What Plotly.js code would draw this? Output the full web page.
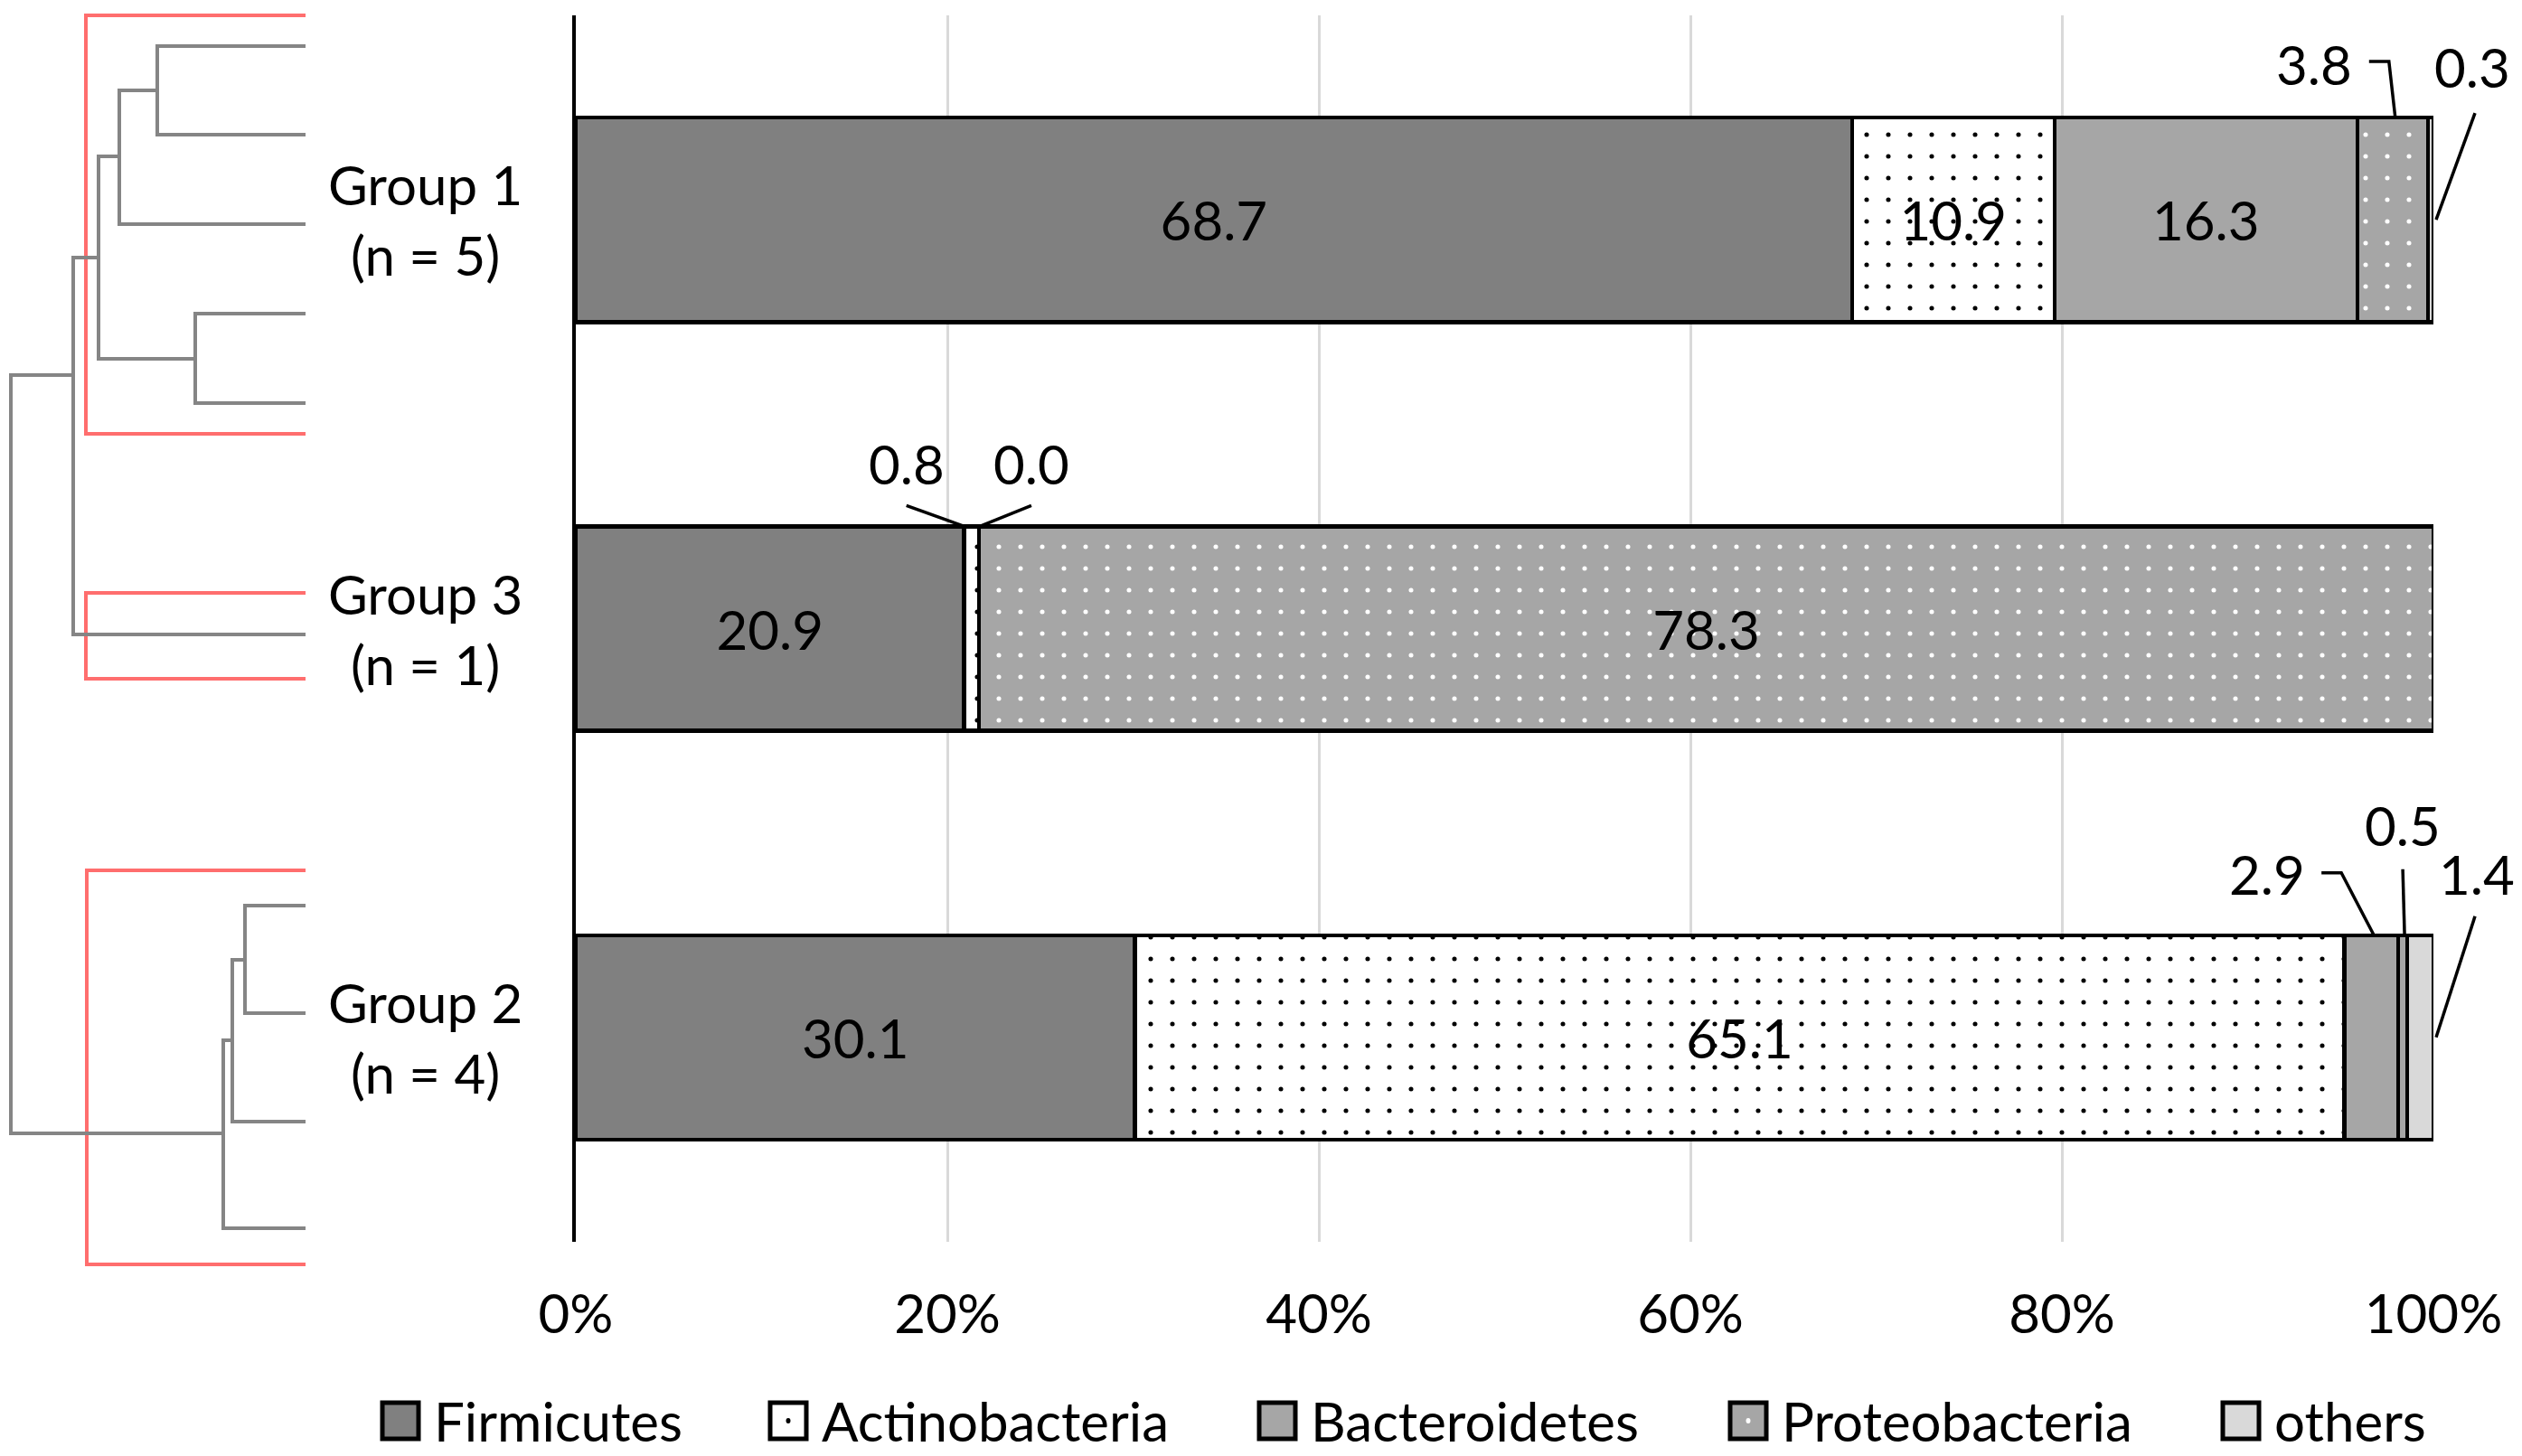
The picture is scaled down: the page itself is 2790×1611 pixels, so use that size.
<!DOCTYPE html>
<html><head><meta charset="utf-8">
<script src="https://cdn.plot.ly/plotly-3.0.1.min.js"></script>
<style>html,body{margin:0;padding:0;background:#fff;}#chart{width:2790px;height:1611px;}</style>
</head><body><div id="chart"></div>
<script>
// ---------- data ----------
const groups = ['Group 1', 'Group 3', 'Group 2'];
const groupN = [5, 1, 4];
const phyla = ['Firmicutes', 'Actinobacteria', 'Bacteroidetes', 'Proteobacteria', 'others'];
const firmicutes     = [68.7, 20.9, 30.1];
const actinobacteria = [10.9, 0.8, 65.1];
const bacteroidetes  = [16.3, 0.0, 2.9];
const proteobacteria = [3.8, 78.3, 0.5];
const others         = [0.3, 0.0, 1.4];
const xTickVals = [0, 20, 40, 60, 80, 100];
const xTickText = ['0%', '20%', '40%', '60%', '80%', '100%'];

const series = [firmicutes, actinobacteria, bacteroidetes, proteobacteria, others];

// ---------- styles ----------
const FONT = 'Lato, "Open Sans", sans-serif';
const FS = 60;
const styles = [
  {color: '#808080'},
  {color: '#ffffff', pattern: {shape: '.', fgcolor: '#000000', bgcolor: '#ffffff', size: 24, solidity: 0.035}},
  {color: '#a6a6a6'},
  {color: '#a6a6a6', pattern: {shape: '.', fgcolor: '#ffffff', bgcolor: '#a6a6a6', size: 24, solidity: 0.035}},
  {color: '#d9d9d9'}
];

const W = 2790, H = 1611;
const PL = 637, PR = 2692, PT = 17, PB = 1374;
const PW = PR - PL, PH = PB - PT;
const X = px => (px - PL) / PW;
const Y = py => (PB - py) / PH;
const XR = [0, 100], YR = [2.5, -0.5];
// data -> paper fractions through the axis ranges
const xPaper = v => (v - XR[0]) / (XR[1] - XR[0]);
const yPaper = c => (c - YR[0]) / (YR[1] - YR[0]);

// ---------- bar traces ----------
const traces = series.map((vals, s) => ({
  type: 'bar', orientation: 'h',
  name: phyla[s],
  y: groups, x: vals,
  marker: Object.assign({line: {color: '#000000', width: 4.5}}, styles[s]),
  text: vals.map(v => v >= 5 ? v.toFixed(1) : ''),
  textposition: 'inside', insidetextanchor: 'middle', textangle: 0,
  constraintext: 'none',
  textfont: {family: FONT, size: FS, color: '#000000'},
  hoverinfo: 'skip', showlegend: false
}));

// ---------- small-value labels with leader lines (offsets in pixels) ----------
const smallLabels = [
  {s: 3, g: 0, at: 'center', ya: 'top', dx: -87, dy: 59, path: [[3,0],[-4,62],[-26,62]]},
  {s: 4, g: 0, at: 'end',    ya: 'mid', dx: 43,  dy: 169, path: [[3,0],[46,118]]},
  {s: 1, g: 1, at: 'center', ya: 'top', dx: -72, dy: 69, path: [[-8,0],[-72,23]]},
  {s: 2, g: 1, at: 'center', ya: 'top', dx: 58,  dy: 69, path: [[1,0],[58,23]]},
  {s: 2, g: 2, at: 'center', ya: 'top', dx: -115, dy: 68, path: [[3,0],[-33,69],[-55,69]]},
  {s: 3, g: 2, at: 'center', ya: 'top', dx: 0,   dy: 122, path: [[2,0],[0,73]]},
  {s: 4, g: 2, at: 'end',    ya: 'mid', dx: 48,  dy: 181, path: [[3,0],[46,134]]}
];

const annotations = [];
const shapes = [];

smallLabels.forEach(L => {
  let start = 0;
  for (let k = 0; k < L.s; k++) start += series[k][L.g];
  const v = series[L.s][L.g];
  const xa = L.at === 'center' ? start + v / 2 : start + v;
  const ya = L.ya === 'top' ? L.g - 0.25 : L.g;
  annotations.push({
    xref: 'x', yref: 'y', x: xa, y: ya, xshift: L.dx, yshift: L.dy,
    text: v.toFixed(1), showarrow: false, xanchor: 'center', yanchor: 'middle',
    font: {family: FONT, size: FS, color: '#000000'}
  });
  shapes.push({
    type: 'path', xref: 'paper', yref: 'paper', xsizemode: 'pixel', ysizemode: 'pixel',
    xanchor: xPaper(xa), yanchor: yPaper(ya),
    path: 'M' + L.path.map(p => p[0] + ',' + p[1]).join('L'),
    line: {color: '#000000', width: 3.5}, layer: 'above'
  });
});

// ---------- group labels ----------
groups.forEach((g, i) => {
  annotations.push({
    xref: 'paper', yref: 'y', x: X(470), y: i,
    text: g + '<br>(n = ' + groupN[i] + ')', showarrow: false,
    xanchor: 'center', yanchor: 'middle', align: 'center',
    font: {family: FONT, size: FS, color: '#000000'}
  });
});

// ---------- dendrogram (pixel layout) ----------
const pixPath = pts => 'M' + pts.map(p => (p[0] - PL) + ',' + (PT - p[1])).join('L');
const dendroGray = [
  [[338,51],[174,51],[174,149],[338,149]],
  [[174,100],[132,100],[132,248],[338,248]],
  [[338,347],[216,347],[216,446],[338,446]],
  [[132,173],[109,173],[109,397],[216,397]],
  [[109,285],[81,285],[81,702],[338,702]],
  [[81,415],[12,415],[12,1254],[247,1254]],
  [[338,1002],[271,1002],[271,1121],[338,1121]],
  [[271,1062],[257,1062],[257,1241],[338,1241]],
  [[257,1151],[247,1151],[247,1359],[338,1359]]
];
const dendroRed = [
  [[338,17],[95,17],[95,480],[338,480]],
  [[338,656],[95,656],[95,751],[338,751]],
  [[338,963],[96,963],[96,1399],[338,1399]]
];
const dshape = (pts, color) => ({
  type: 'path', xref: 'paper', yref: 'paper', xsizemode: 'pixel', ysizemode: 'pixel',
  xanchor: 0, yanchor: 1, path: pixPath(pts), line: {color: color, width: 4}, layer: 'above'
});
dendroRed.forEach(p => shapes.push(dshape(p, '#ff6e6e')));
dendroGray.forEach(p => shapes.push(dshape(p, '#858585')));

// ---------- custom legend ----------
const legX = [423, 852, 1393, 1914, 2459];
const legY = 1572, SYM = 40;
phyla.forEach((name, s) => {
  const x0 = legX[s];
  shapes.push({
    type: 'rect', xref: 'paper', yref: 'paper',
    x0: X(x0), x1: X(x0 + SYM), y0: Y(legY + SYM / 2), y1: Y(legY - SYM / 2),
    fillcolor: styles[s].color, line: {color: '#000000', width: 5}
  });
  if (styles[s].pattern) {
    shapes.push({
      type: 'circle', xref: 'paper', yref: 'paper', xsizemode: 'pixel', ysizemode: 'pixel',
      xanchor: X(x0 + SYM / 2), yanchor: Y(legY), x0: -2.5, x1: 2.5, y0: -3, y1: 3,
      fillcolor: styles[s].pattern.fgcolor, line: {width: 0}
    });
  }
  annotations.push({
    xref: 'paper', yref: 'paper', x: X(x0 + SYM + 15), y: Y(legY),
    text: name, showarrow: false, xanchor: 'left', yanchor: 'middle',
    font: {family: FONT, size: FS, color: '#000000'}
  });
});

const layout = {
  width: W, height: H,
  margin: {l: PL, r: W - PR, t: PT, b: H - PB, pad: 0},
  paper_bgcolor: '#ffffff', plot_bgcolor: '#ffffff',
  barmode: 'stack', bargap: 0.5,
  showlegend: false,
  font: {family: FONT, size: FS, color: '#000000'},
  xaxis: {
    range: XR, tickvals: xTickVals, ticktext: xTickText,
    showgrid: true, gridcolor: '#d9d9d9', gridwidth: 3,
    zeroline: false, showline: false, ticks: '', ticklabelstandoff: 40,
    tickfont: {family: FONT, size: FS, color: '#000000'}, fixedrange: true
  },
  yaxis: {
    type: 'category', categoryorder: 'array', categoryarray: groups,
    range: YR, showticklabels: false, ticks: '', showgrid: false,
    zeroline: false, showline: true, linecolor: '#000000', linewidth: 4, fixedrange: true
  },
  annotations: annotations,
  shapes: shapes
};

Plotly.newPlot('chart', traces, layout, {staticPlot: true, displayModeBar: false});
</script>
</body></html>
